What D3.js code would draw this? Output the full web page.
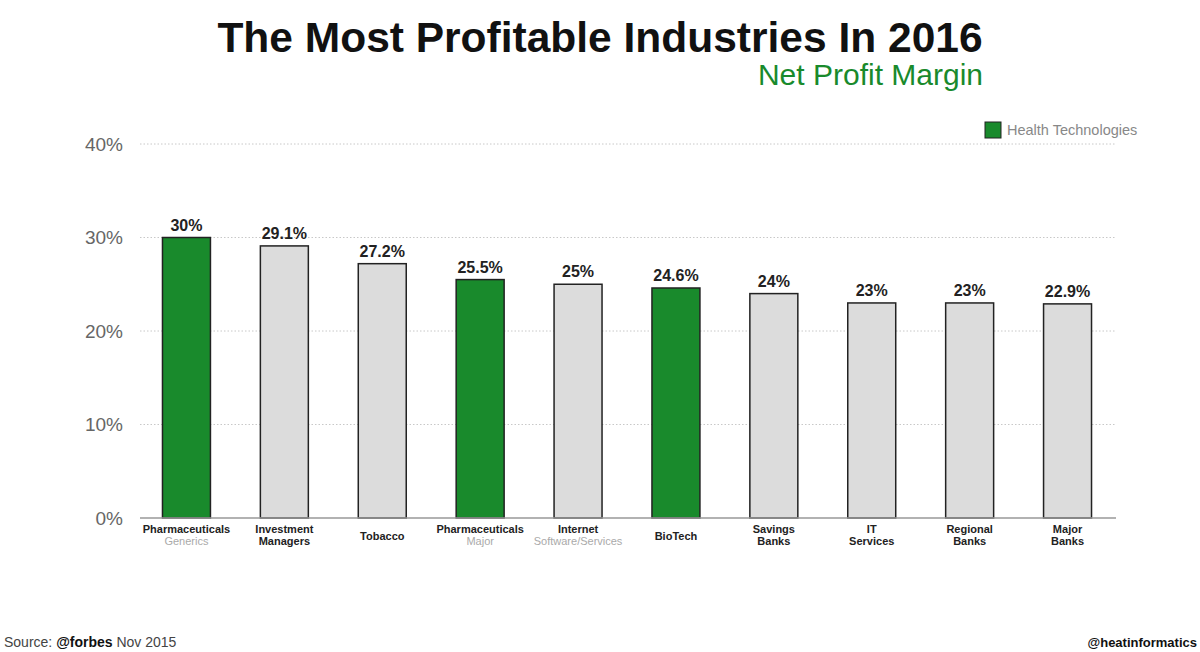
<!DOCTYPE html>
<html>
<head>
<meta charset="utf-8">
<script src="https://cdn.jsdelivr.net/npm/d3@7"></script>
<style>
  body { margin: 0; background: #fff; }
  svg { display: block; font-family: "Liberation Sans", Arial, sans-serif; }
  .grid line { stroke: #c8c8c8; stroke-dasharray: 1.5 2; }
  .ytick { fill: #666; font-size: 19px; }
</style>
</head>
<body>
<svg id="chart"></svg>
<script>
const width = 1200, height = 652;

// chart data
const industries = ["Pharmaceuticals", "Investment", "Tobacco", "Pharmaceuticals", "Internet",
  "BioTech", "Savings", "IT", "Regional", "Major"];
const subLabels = ["Generics", "Managers", "", "Major", "Software/Services",
  "", "Banks", "Services", "Banks", "Banks"];
const subIsLight = [true, false, false, true, true, false, false, false, false, false];
const margins = [30, 29.1, 27.2, 25.5, 25, 24.6, 24, 23, 23, 22.9];
const valueLabels = ["30%", "29.1%", "27.2%", "25.5%", "25%", "24.6%", "24%", "23%", "23%", "22.9%"];
const isHealth = [true, false, false, true, false, true, false, false, false, false];
const yTicks = [0, 10, 20, 30, 40];

const green = "#198a2c";
const grey = "#dcdcdc";
const narrow = "'Liberation Sans Narrow', 'Arial Narrow', 'Liberation Sans', sans-serif";

const SVG = d3.select("#chart").attr("width", width).attr("height", height);

const x = d3.scaleBand()
  .domain(d3.range(industries.length))
  .range([138, 1116])
  .paddingInner(0.51)
  .paddingOuter(0.25);

const y = d3.scaleLinear().domain([0, 40]).range([518, 144]);

// gridlines
const grid = SVG.append("g").attr("class", "grid");
grid.selectAll("line")
  .data(yTicks.filter(d => d > 0))
  .enter().append("line")
  .attr("x1", 140).attr("x2", 1116)
  .attr("y1", d => y(d)).attr("y2", d => y(d));

// y tick labels
SVG.append("g").selectAll("text")
  .data(yTicks)
  .enter().append("text")
  .attr("class", "ytick")
  .attr("x", 123)
  .attr("y", d => y(d))
  .attr("dy", "0.35em")
  .attr("text-anchor", "end")
  .text(d => d + "%");

// bars
SVG.append("g").selectAll("rect")
  .data(margins)
  .enter().append("rect")
  .attr("x", (d, i) => x(i))
  .attr("y", d => y(d))
  .attr("width", x.bandwidth())
  .attr("height", d => y(0) - y(d))
  .attr("fill", (d, i) => isHealth[i] ? green : grey)
  .attr("stroke", "#222")
  .attr("stroke-width", 1.5);

// baseline
SVG.append("line")
  .attr("x1", 140).attr("x2", 1116)
  .attr("y1", y(0)).attr("y2", y(0))
  .attr("stroke", "#999").attr("stroke-width", 1.5);

// value labels
SVG.append("g").selectAll("text")
  .data(margins)
  .enter().append("text")
  .attr("x", (d, i) => x(i) + x.bandwidth() / 2)
  .attr("y", d => y(d) - 7)
  .attr("text-anchor", "middle")
  .style("font-family", narrow)
  .style("font-weight", "bold")
  .style("font-size", "16px")
  .attr("fill", "#222")
  .text((d, i) => valueLabels[i]);

// category labels
const cat = SVG.append("g").selectAll("g")
  .data(industries)
  .enter().append("g")
  .attr("transform", (d, i) => `translate(${x(i) + x.bandwidth() / 2},0)`);

cat.append("text")
  .attr("y", (d, i) => subLabels[i] ? 533 : 540)
  .attr("text-anchor", "middle")
  .style("font-family", narrow)
  .style("font-weight", "bold")
  .style("font-size", "11px")
  .attr("fill", "#222")
  .text(d => d);

cat.append("text")
  .attr("y", 545)
  .attr("text-anchor", "middle")
  .style("font-family", narrow)
  .style("font-weight", (d, i) => subIsLight[i] ? "normal" : "bold")
  .style("font-size", "11px")
  .attr("fill", (d, i) => subIsLight[i] ? "#aaa" : "#222")
  .text((d, i) => subLabels[i]);

// title
SVG.append("text")
  .attr("x", 600).attr("y", 52)
  .attr("text-anchor", "middle")
  .style("font-size", "42.5px")
  .style("font-weight", "bold")
  .attr("fill", "#111")
  .text("The Most Profitable Industries In 2016");

SVG.append("text")
  .attr("x", 983).attr("y", 85)
  .attr("text-anchor", "end")
  .style("font-size", "30px")
  .attr("fill", green)
  .text("Net Profit Margin");

// legend
const legend = SVG.append("g").attr("class", "legend");
legend.append("rect")
  .attr("x", 985).attr("y", 122)
  .attr("width", 16).attr("height", 16)
  .attr("fill", green).attr("stroke", "#222");
legend.append("text")
  .attr("x", 1007).attr("y", 130)
  .attr("dy", "0.35em")
  .style("font-size", "14.5px")
  .attr("fill", "#888")
  .text("Health Technologies");

// footer
const src = SVG.append("text")
  .attr("x", 4).attr("y", 647)
  .style("font-size", "14px")
  .attr("fill", "#444");
src.append("tspan").text("Source: ");
src.append("tspan").style("font-weight", "bold").attr("fill", "#111").text("@forbes");
src.append("tspan").text(" Nov 2015");

SVG.append("text")
  .attr("x", 1197).attr("y", 647)
  .attr("text-anchor", "end")
  .style("font-size", "13px")
  .style("font-weight", "bold")
  .attr("fill", "#111")
  .text("@heatinformatics");
</script>
</body>
</html>
